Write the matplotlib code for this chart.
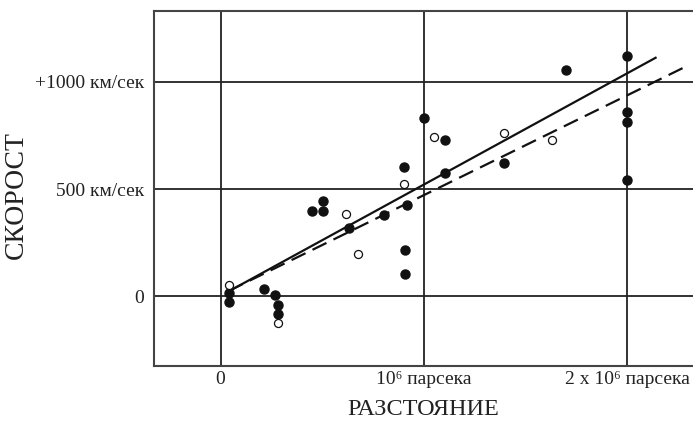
import matplotlib
matplotlib.use("Agg")
import matplotlib.pyplot as plt

plt.rcParams['font.family'] = ['Liberation Serif', 'DejaVu Serif']

# distance (10^6 parsec) and velocity (km/s)
filled_x = [0.041, 0.041, 0.216, 0.268, 0.280, 0.280, 0.449, 0.502, 0.502, 0.632,
            0.805, 0.916, 0.901, 0.906, 0.906, 1.001, 1.104, 1.104, 1.392, 1.697,
            1.998, 1.998, 1.998, 1.998]
filled_v = [17, -25, 36, 4, -39, -82, 400, 400, 446, 317,
            377, 424, 601, 214, 102, 834, 727, 573, 624, 1054,
            1123, 860, 815, 543]
open_x = [0.041, 0.280, 0.618, 0.676, 0.904, 1.050, 1.392, 1.632]
open_v = [54, -124, 383, 196, 523, 744, 761, 727]

solid_x = [0.04, 2.14]
solid_v = [23, 1113]
dashed_x = [0.04, 2.278]
dashed_v = [25, 1067]

xticks = [0, 1, 2]
xlabels = ["0", "10⁶ парсека", "2 x 10⁶ парсека"]
yticks = [0, 500, 1000]
ylabels = ["0", "500 км/сек", "+1000 км/сек"]

fig = plt.figure(figsize=(6.93, 4.25), dpi=100)
ax = fig.add_axes([0.2218, 0.1395, 0.7782, 0.8345])

ax.set_xlim(-0.329, 2.324)
ax.set_ylim(-324, 1331)

ax.plot(solid_x, solid_v, color='#111111', lw=1.6, zorder=3)
ax.plot(dashed_x, dashed_v, color='#111111', lw=1.6, dashes=(7, 3.5), zorder=3)

ax.plot(filled_x, filled_v, 'o', ms=6.5, mfc='#111111', mec='#111111', zorder=4)
ax.plot(open_x, open_v, 'o', ms=5.8, mfc='white', mec='#111111', mew=0.9, zorder=4)

ax.set_xticks(xticks)
ax.set_xticklabels(xlabels, fontsize=14)
ax.set_yticks(yticks)
ax.set_yticklabels(ylabels, fontsize=14)
ax.tick_params(axis='x', length=0, pad=4, colors='#222222')
ax.tick_params(axis='y', length=0, pad=7, colors='#222222')
ax.grid(True, color='#222222', lw=1.3)
ax.set_axisbelow(True)

for s in ['left', 'bottom', 'top']:
    ax.spines[s].set_color('#444444')
    ax.spines[s].set_linewidth(1.5)
ax.spines['right'].set_visible(False)

ax.set_xlabel("РАЗСТОЯНИЕ", fontsize=17.5, color='#222222', labelpad=8)
ax.set_ylabel("СКОРОСТ", fontsize=20, color='#222222')
ax.yaxis.set_label_coords(-0.232, 0.48)

fig.savefig("out.png", dpi=100)
